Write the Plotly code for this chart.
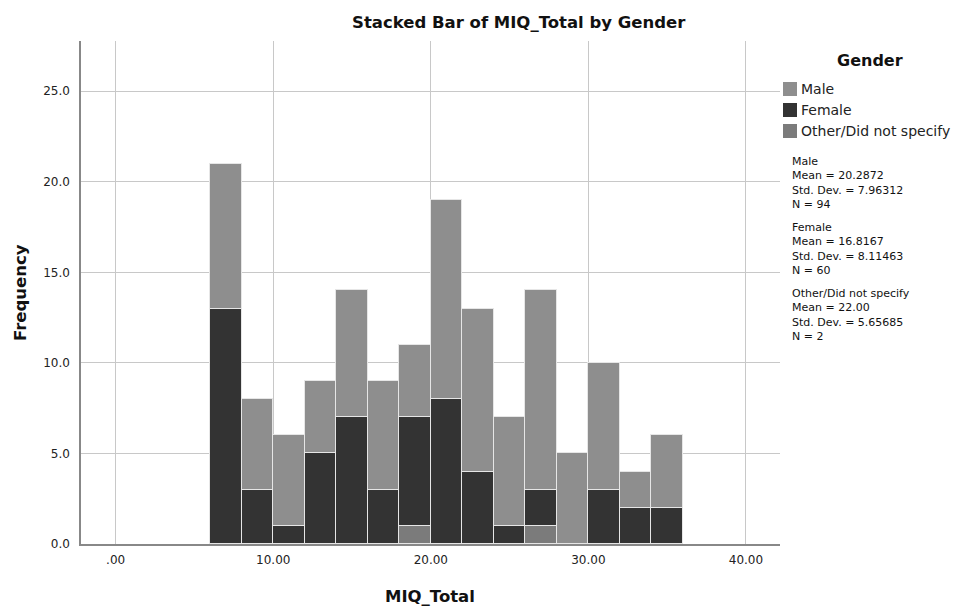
import plotly.graph_objects as go

# Histogram bins of MIQ_Total (bin width 2)
bin_starts = [6, 8, 10, 12, 14, 16, 18, 20, 22, 24, 26, 28, 30, 32, 34]
bin_width = 2
male = [8, 5, 5, 4, 7, 6, 4, 11, 9, 6, 11, 5, 7, 2, 4]
female = [13, 3, 1, 5, 7, 3, 6, 8, 4, 1, 2, 0, 3, 2, 2]
other = [0, 0, 0, 0, 0, 0, 1, 0, 0, 0, 1, 0, 0, 0, 0]

x_ticks = [0, 10, 20, 30, 40]
x_ticktext = [".00", "10.00", "20.00", "30.00", "40.00"]
y_ticks = [0, 5, 10, 15, 20, 25]

series_names = ["Male", "Female", "Other/Did not specify"]
series_colors = {"Male": "#8e8e8e", "Female": "#333333", "Other/Did not specify": "#7b7b7b"}

stats = [
    ["Male", "Mean = 20.2872", "Std. Dev. = 7.96312", "N = 94"],
    ["Female", "Mean = 16.8167", "Std. Dev. = 8.11463", "N = 60"],
    ["Other/Did not specify", "Mean = 22.00", "Std. Dev. = 5.65685", "N = 2"],
]

centers = [s + bin_width / 2 for s in bin_starts]
FONT = "DejaVu Sans, Liberation Sans, Arial, sans-serif"

W, H = 955, 607
L, R, T, B = 81, 175, 41, 63
pw, ph = W - L - R, H - T - B


def px_x(px):  # pixel -> paper x
    return (px - L) / pw


def px_y(py):  # pixel -> paper y
    return (H - B - py) / ph


fig = go.Figure()
edge = dict(color="#e6e6e6", width=1)
for name, vals in [("Other/Did not specify", other), ("Female", female), ("Male", male)]:
    fig.add_trace(go.Bar(x=centers, y=vals, width=bin_width, name=name,
                         marker=dict(color=series_colors[name], line=edge),
                         showlegend=False))

annotations = [
    dict(text="<b>Stacked Bar of MIQ_Total by Gender</b>", x=px_x(519), y=px_y(22),
         xref="paper", yref="paper", xanchor="center", yanchor="middle",
         showarrow=False, font=dict(size=16.5, color="#111", family=FONT)),
    dict(text="<b>MIQ_Total</b>", x=px_x(430), y=px_y(596),
         xref="paper", yref="paper", xanchor="center", yanchor="middle",
         showarrow=False, font=dict(size=16.5, color="#111", family=FONT)),
    dict(text="<b>Frequency</b>", x=px_x(20), y=px_y(293), textangle=-90,
         xref="paper", yref="paper", xanchor="center", yanchor="middle",
         showarrow=False, font=dict(size=16.5, color="#111", family=FONT)),
    dict(text="<b>Gender</b>", x=px_x(870), y=px_y(60), xref="paper", yref="paper",
         xanchor="center", yanchor="middle", showarrow=False,
         font=dict(size=16, color="#111", family=FONT)),
]
shapes = []
legend_rows = [89, 110, 131]
for name, yc in zip(series_names, legend_rows):
    shapes.append(dict(type="rect", xref="paper", yref="paper",
                       x0=px_x(783), x1=px_x(797), y0=px_y(yc + 7), y1=px_y(yc - 7),
                       fillcolor=series_colors[name], line=dict(width=0)))
    annotations.append(dict(text=name, x=px_x(799), y=px_y(yc), xref="paper", yref="paper",
                            xanchor="left", yanchor="middle", showarrow=False,
                            font=dict(size=14, color="#222", family=FONT)))

group_centers = [183, 249, 315]
for g, lines in enumerate(stats):
    annotations.append(dict(text="<br>".join(lines), x=px_x(790), y=px_y(group_centers[g]),
                            xref="paper", yref="paper", xanchor="left", yanchor="middle",
                            align="left", showarrow=False,
                            font=dict(size=11, color="#111", family=FONT)))

fig.update_layout(
    width=W, height=H,
    margin=dict(l=L, r=R, t=T, b=B, autoexpand=False),
    paper_bgcolor="white", plot_bgcolor="white",
    barmode="stack", bargap=0,
    font=dict(family=FONT, color="#222", size=12),
    annotations=annotations,
    shapes=shapes,
    showlegend=False,
    hovermode=False,
    xaxis=dict(range=[-2.2, 42.16], tickvals=x_ticks, ticktext=x_ticktext,
               showgrid=True, gridcolor="#c8c8c8", gridwidth=1,
               showline=True, linecolor="#888888", linewidth=1.5,
               zeroline=False, ticks="", ticklabelstandoff=4, automargin=False,
               tickfont=dict(size=12, color="#222")),
    yaxis=dict(range=[0, 27.77], tickvals=y_ticks, tickformat=".1f",
               showgrid=True, gridcolor="#c8c8c8", gridwidth=1,
               showline=True, linecolor="#888888", linewidth=1.5,
               zeroline=False, ticks="", ticklabelstandoff=7, automargin=False,
               tickfont=dict(size=12, color="#222")),
)

fig.write_html("out.html", config={"displayModeBar": False},
               post_script="document.body.style.margin='0';document.body.style.overflow='hidden';")
